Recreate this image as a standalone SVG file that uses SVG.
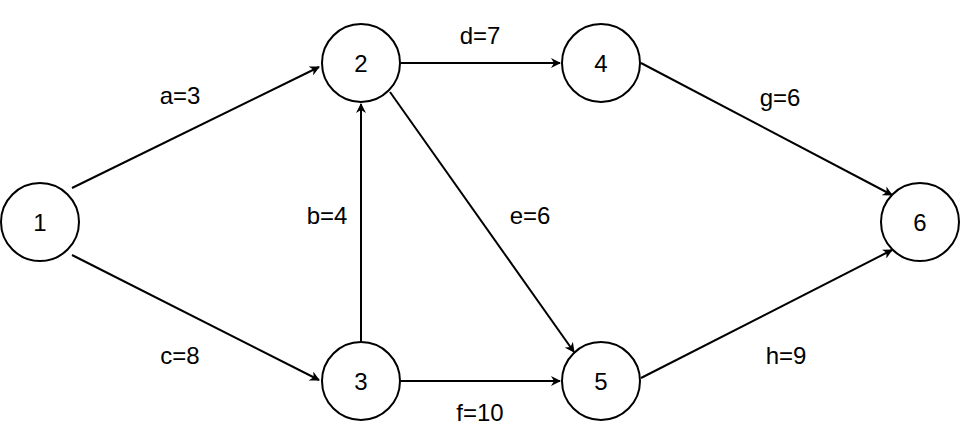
<svg xmlns="http://www.w3.org/2000/svg" width="962" height="440" viewBox="0 0 962 440">
<style>
circle{fill:#fff;stroke:#000;stroke-width:2}
text{font-family:"Liberation Sans",Arial,sans-serif;font-size:24px;fill:#000;text-anchor:middle;dominant-baseline:central}
.e{stroke:#000;stroke-width:2;fill:none;marker-end:url(#a)}
</style>
<defs><marker id="a" markerWidth="10" markerHeight="10" refX="9" refY="5" orient="auto" markerUnits="userSpaceOnUse"><path d="M0,0 L10,5 L0,10 L3,5 Z" fill="#000"/></marker></defs>
<rect width="962" height="440" fill="#fff"/>
<g id="connectors">
<line class="e" x1="72" y1="188" x2="319" y2="67"/>
<line class="e" x1="72" y1="255" x2="319" y2="380"/>
<line class="e" x1="361" y1="342" x2="361" y2="104"/>
<line class="e" x1="401" y1="63" x2="560" y2="63"/>
<line class="e" x1="390" y1="92" x2="574" y2="352"/>
<line class="e" x1="401" y1="381" x2="560" y2="381"/>
<line class="e" x1="641" y1="63" x2="892" y2="195"/>
<line class="e" x1="641" y1="378" x2="892" y2="250"/>
<text x="180" y="95">a=3</text>
<text x="180" y="355">c=8</text>
<text x="327" y="215">b=4</text>
<text x="480" y="35">d=7</text>
<text x="530" y="215">e=6</text>
<text x="480" y="412">f=10</text>
<text x="780" y="97">g=6</text>
<text x="786" y="355">h=9</text>
</g>
<g id="n1"><circle cx="40" cy="222" r="39"/><text x="40" y="222">1</text></g>
<g id="n2"><circle cx="361" cy="63" r="39"/><text x="361" y="63">2</text></g>
<g id="n3"><circle cx="361" cy="381" r="39"/><text x="361" y="381">3</text></g>
<g id="n4"><circle cx="601" cy="63" r="39"/><text x="601" y="63">4</text></g>
<g id="n5"><circle cx="601" cy="381" r="39"/><text x="601" y="381">5</text></g>
<g id="n6"><circle cx="920" cy="222" r="39"/><text x="920" y="222">6</text></g>
</svg>
